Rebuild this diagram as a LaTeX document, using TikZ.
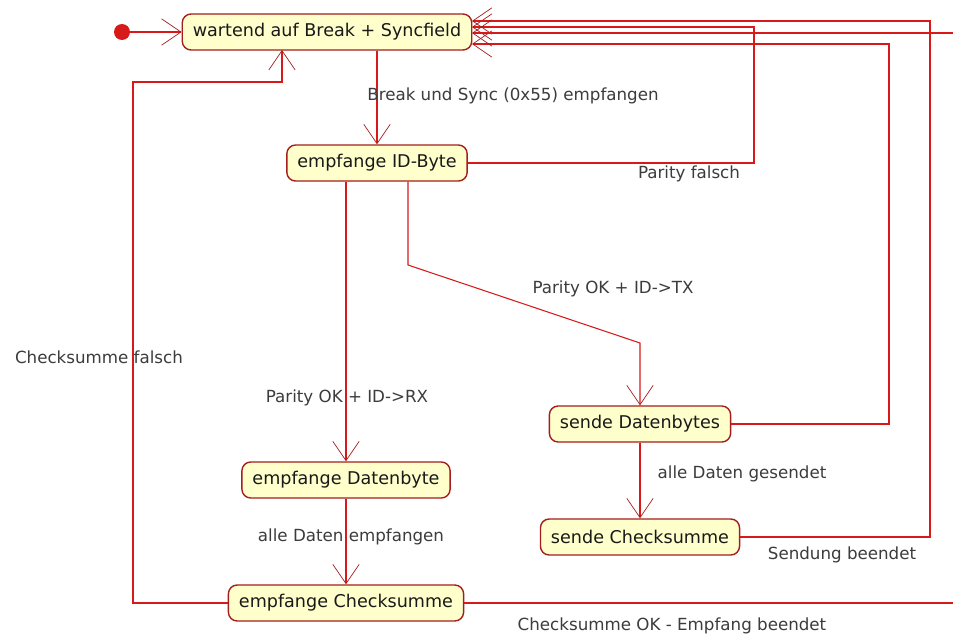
\documentclass[tikz,border=0pt]{standalone}
\usepackage{fontspec}
\setmainfont{DejaVu Sans}
\usetikzlibrary{arrows.meta}
\definecolor{statefill}{RGB}{255,255,204}
\definecolor{stateline}{RGB}{165,30,30}
\definecolor{flowred}{RGB}{215,25,25}
\definecolor{labelgray}{RGB}{60,60,60}
\tikzset{
  state/.style={draw=stateline, line width=0.8pt, fill=statefill, rounded corners=5pt, minimum height=20.5pt,
    inner xsep=6pt, font=\fontsize{10}{12}\selectfont, text=black!90},
  flow/.style={draw=flowred, line width=0.6pt,
    -{Straight Barb[length=11pt,width=15pt,line width=0.4pt,color=stateline]}},
  lbl/.style={text=labelgray, font=\fontsize{9.5}{11}\selectfont},
}
\begin{document}
\begin{tikzpicture}[x=0.02cm, y=-0.02cm]
\useasboundingbox (0,0) rectangle (953,636);
\fill[white] (0,0) rectangle (953,636);
\clip (0,0) rectangle (953,636);

% Zustaende
\node[circle, fill=flowred, inner sep=0pt, minimum size=0.32cm] (start) at (122,32) {};
\node[state] (wait) at (327,32) {wartend auf Break + Syncfield};
\node[state] (id)   at (377,163) {empfange ID-Byte};
\node[state] (rx)   at (346,480) {empfange Datenbyte};
\node[state] (rxcs) at (346,603) {empfange Checksumme};
\node[state] (tx)   at (640,424) {sende Datenbytes};
\node[state] (txcs) at (640,537) {sende Checksumme};

% Eingaenge am Wartezustand
\coordinate (in1) at (472,21);
\coordinate (in2) at (472,27);
\coordinate (in3) at (472,33);
\coordinate (in4) at (472,44);
\coordinate (in5) at (282,50);
\coordinate (k1) at (408,265);
\coordinate (k2) at (640,343);

\draw[flow] (start) -- (wait.west);
\draw[flow] (id.north |- wait.south) -- (id.north);
\draw[flow] (id.east) -| (754,27) -- (in2); % Parity falsch
\draw[flow] (rx.north |- id.south) -- (rx.north);
\draw[flow] (k1 |- id.south) -- (k1) -- (k2) -- (tx.north);
\draw[flow] (rx) -- (rxcs);
\draw[flow] (tx) -- (txcs);
\draw[flow] (tx.east) -| (889,44) -- (in4);
\draw[flow] (txcs.east) -| (930,21) -- (in1);
\draw[flow] (rxcs.east) -| (975,33) -- (in3);
\draw[flow] (rxcs.west) -| (133,82) -| (in5); % Checksumme falsch

% Beschriftungen
\node[lbl] (l1) at (513,96)  {Break und Sync (0x55) empfangen};
\node[lbl] (l2) at (689,174) {Parity falsch};
\node[lbl] (l3) at (613,289) {Parity OK + ID->TX};
\node[lbl] (l4) at (99,357)  {Checksumme falsch};
\node[lbl] (l5) at (347,398) {Parity OK + ID->RX};
\node[lbl] (l6) at (351,537) {alle Daten empfangen};
\node[lbl] (l7) at (742,474) {alle Daten gesendet};
\node[lbl] (l8) at (842,555) {Sendung beendet};
\node[lbl] (l9) at (672,626) {Checksumme OK - Empfang beendet};
\end{tikzpicture}
\end{document}
